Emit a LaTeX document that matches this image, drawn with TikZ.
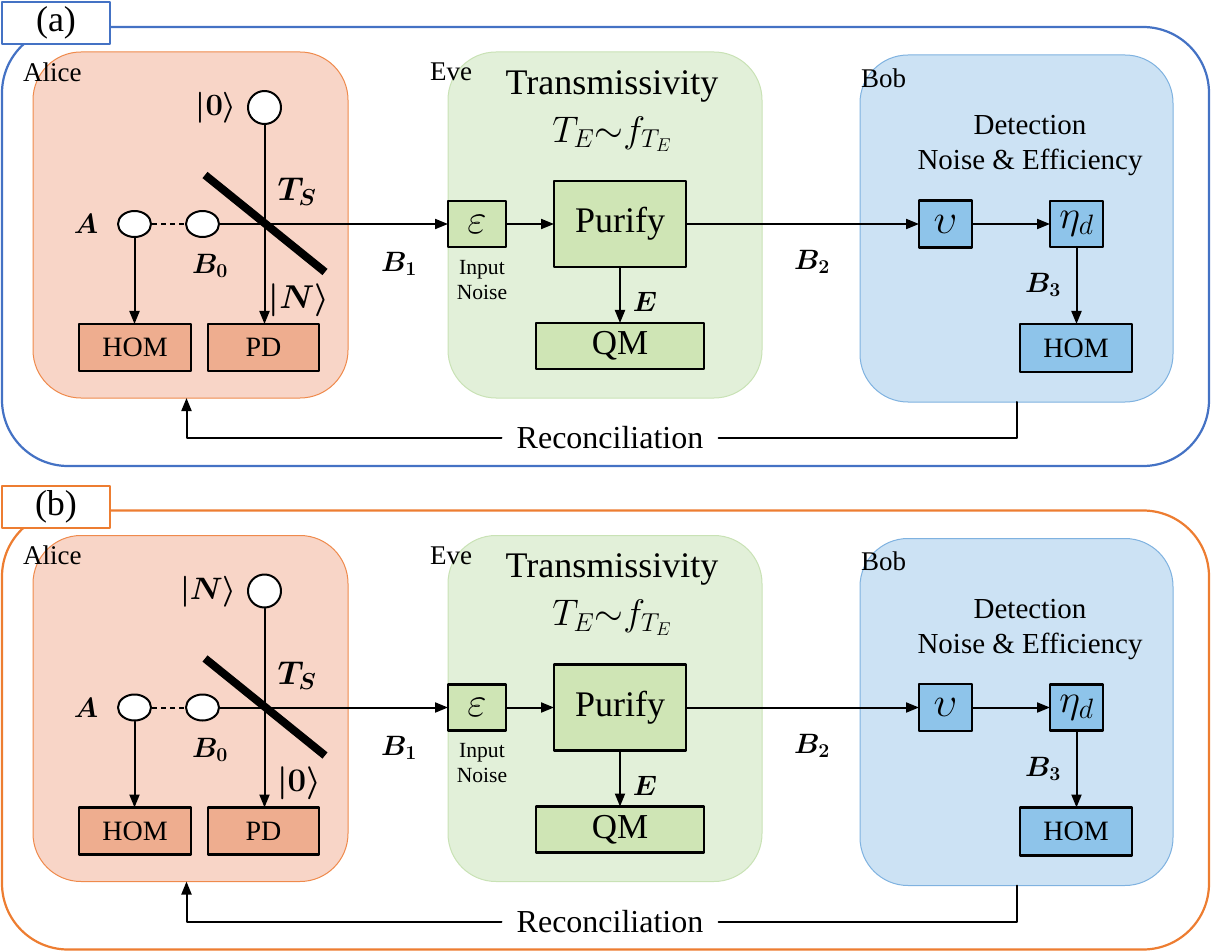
\RequirePackage{fix-cm}
\documentclass[tikz,border=0pt]{standalone}
\usepackage{amsmath,amssymb}
\usepackage{bm}
\usepackage{fontspec}
\setmainfont{Liberation Serif}
\usepackage{tikz}
\usetikzlibrary{arrows.meta,shapes.geometric}

\definecolor{frameA}{HTML}{4472C4}
\definecolor{frameB}{HTML}{ED7D31}
\definecolor{aliceBg}{HTML}{F8D5C7}
\definecolor{aliceLn}{HTML}{EF8A4C}
\definecolor{aliceBx}{HTML}{EEAD8F}
\definecolor{eveBg}{HTML}{E2F0D9}
\definecolor{eveLn}{HTML}{C9E2B5}
\definecolor{eveBx}{HTML}{CFE5B5}
\definecolor{bobBg}{HTML}{CCE2F4}
\definecolor{bobLn}{HTML}{7FB2E0}
\definecolor{bobBx}{HTML}{8EC4EA}

\newcommand{\fsz}[1]{\fontsize{#1}{#1}\selectfont}

\begin{document}
\begin{tikzpicture}[line cap=round,line join=round,>={Triangle[length=13pt,width=10pt]},x=1pt,y=-1pt,
		region/.style={rounded corners=48pt,line width=1pt,inner sep=0pt,outer sep=0pt},
		blk/.style={draw=black,line width=2.2pt,inner sep=0pt,outer sep=0pt},
		port/.style={circle,draw=black,fill=white,line width=2pt,minimum size=33pt,inner sep=0pt},
		mode/.style={ellipse,draw=black,fill=white,line width=2pt,minimum width=33pt,minimum height=26pt,inner sep=0pt},
		lbl/.style={inner sep=0pt,font=\fsz{28}},
		conn/.style={->,line width=2pt}]
	\useasboundingbox (0,0) rectangle (1211,952);
	\foreach \p/\dy/\fr/\kt/\kb in {a/0/frameA/0/N, b/483.5/frameB/N/0}{
	\begin{scope}[shift={(0,\dy)}]
		%%%% FRAME
		\draw[\fr,line width=2.2pt,rounded corners=66pt] (2,27) rectangle (1209,466);
		\node[draw=\fr,fill=white,line width=2pt,minimum width=108pt,minimum height=42pt,inner sep=0pt] (tag\p) at (56,23) {\fsz{36}(\p)};
		
		%%%% PARTIES
		\node[region,draw=aliceLn,fill=aliceBg,minimum width=315pt,minimum height=346pt] (alice\p) at (190.5,225) {};
		\node[region,draw=eveLn,fill=eveBg,minimum width=314pt,minimum height=346pt] (eve\p) at (605,225) {};
		\node[region,draw=bobLn,fill=bobBg,minimum width=313pt,minimum height=347pt] (bob\p) at (1016.5,228.5) {};
		\node[lbl,anchor=west,font=\fsz{27}] (aliceName\p) at (23,72) {Alice};
		\node[lbl,anchor=west,font=\fsz{27}] (eveName\p) at (430,72) {Eve};
		\node[lbl,anchor=west,font=\fsz{27}] (bobName\p) at (861,78) {Bob};
		
		%%%% ALICE
		\node[port] (kin\p) at (264.5,107.5) {};
		\node[mode] (modeA\p) at (134.5,224) {};
		\node[mode] (modeB\p) at (202.5,224) {};
		\node[blk,fill=aliceBx,minimum width=112pt,minimum height=47pt] (hom\p) at (135,347.5) {\fsz{28}HOM};
		\node[blk,fill=aliceBx,minimum width=111pt,minimum height=47pt] (pd\p) at (263.5,347.5) {\fsz{28}PD};
		\node[lbl,anchor=east,font=\fsz{31}] (kTop\p) at (237,108) {$\bm{\lvert \kt\rangle}$};
		\node[lbl,font=\fsz{33}] (kBot\p) at (299,300) {$\bm{\lvert \kb\rangle}$};
		\node[lbl,font=\fsz{33}] (ts\p) at (297,192) {$\bm{T_S}$};
		\node[lbl] (lA\p) at (86,224) {$\bm{A}$};
		\node[lbl] (lB0\p) at (210,266) {$\bm{B_0}$};
		\node[lbl] (lB1\p) at (399,264) {$\bm{B_1}$};
		
		%%%% EVE
		\node[lbl,font=\fsz{36}] (trans\p) at (612,86) {Transmissivity};
		\node[lbl,font=\fsz{37}] (dist\p) at (612,134) {$T_E{\sim}f_{T_E}$};
		\node[blk,fill=eveBx,minimum width=58pt,minimum height=46pt] (eps\p) at (477,224) {\fsz{42}$\varepsilon$};
		\node[lbl,font=\fontsize{21.6}{25}\selectfont,align=center] (inNoise\p) at (482,280) {Input\\Noise};
		\node[blk,fill=eveBx,minimum width=132pt,minimum height=86pt] (pur\p) at (620,224) {\fsz{36}Purify};
		\node[blk,fill=eveBx,minimum width=168pt,minimum height=46pt] (qm\p) at (620,346) {\fsz{35}QM};
		\node[lbl] (lE\p) at (645,302) {$\bm{E}$};
		\node[lbl] (lB2\p) at (812,262) {$\bm{B_2}$};
		
		%%%% BOB
		\node[lbl,font=\fontsize{29}{35}\selectfont,align=center] (det\p) at (1030,146) {Detection\\Noise \& Efficiency};
		\node[blk,fill=bobBx,minimum width=53pt,minimum height=47pt] (ups\p) at (945.5,224) {\fsz{42}$\upsilon$};
		\node[blk,fill=bobBx,minimum width=53pt,minimum height=46pt] (eta\p) at (1076.5,224) {\fsz{40}$\eta_d$};
		\node[blk,fill=bobBx,minimum width=112pt,minimum height=48pt] (bhom\p) at (1076,348) {\fsz{28}HOM};
		\node[lbl] (lB3\p) at (1043,285) {$\bm{B_3}$};
		
		%%%% RECONCILIATION
		\node[inner sep=0pt,inner xsep=15pt,font=\fsz{32}] (rec\p) at (610,438) {Reconciliation};
		
		%%%% CONNECTIONS
		\draw[line width=2pt,dash pattern=on 5pt off 4pt,line cap=butt] (modeA\p) -- (modeB\p);
		\draw[conn] (modeB\p) -- (eps\p);
		\draw[conn] (kin\p) -- (kin\p |- pd\p.north);
		\draw[conn] (modeA\p) -- (modeA\p |- hom\p.north);
		\draw[conn] (eps\p) -- (pur\p);
		\draw[conn] (pur\p) -- (qm\p);
		\draw[conn] (pur\p) -- (ups\p);
		\draw[conn] (ups\p) -- (eta\p);
		\draw[conn] (eta\p) -- (eta\p |- bhom\p.north);
		\draw[line width=2pt] (bob\p) |- (rec\p);
		\draw[conn] (rec\p) -| ([xshift=-4pt]alice\p.south);
		
		%BEAM SPLITTER
		\draw[line width=8pt,line cap=butt] (205,175) -- (325,272);
	\end{scope}}
\end{tikzpicture}
\end{document}
